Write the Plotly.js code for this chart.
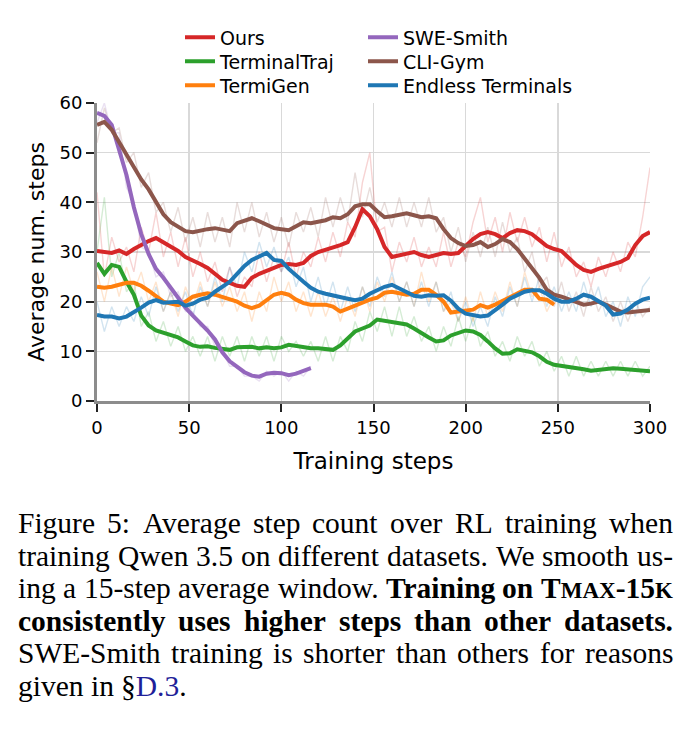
<!DOCTYPE html>
<html>
<head>
<meta charset="utf-8">
<script src="https://cdn.plot.ly/plotly-3.0.1.min.js"></script>
<style>
  html, body { margin: 0; padding: 0; background: #fff; }
  #chart { width: 691px; height: 734px; }
</style>
</head>
<body>
<div id="chart"></div>
<script>
// Training steps are logged every 4 steps.
const steps = [];
for (let s = 0; s <= 300; s += 4) steps.push(s);

// 15-step moving averages of the number of agent steps per episode.
const oursAvg = [
  30.2, 30.0, 29.8, 30.3, 29.6, 30.6, 31.5, 32.2, 32.8, 32.0,
  31.0, 30.2, 29.0, 28.4, 27.6, 26.8, 25.6, 24.4, 23.8, 23.2,
  23.0, 24.8, 25.6, 26.2, 27.0, 27.4, 27.6, 27.4, 27.8, 29.2,
  30.0, 30.4, 30.8, 31.4, 32.0, 35.0, 38.6, 37.2, 34.6, 31.0,
  29.0, 29.4, 29.6, 30.0, 29.4, 29.0, 29.4, 29.8, 29.6, 29.8,
  31.2, 32.6, 33.6, 34.0, 33.6, 32.8, 33.8, 34.4, 34.2, 33.6,
  32.4, 31.2, 30.6, 30.2, 28.8, 27.4, 26.4, 26.0, 26.6, 27.0,
  27.4, 28.0, 28.8, 31.4, 33.2, 34.0
];
const terminalTrajAvg = [
  27.8, 25.6, 27.4, 27.0, 24.0, 21.4, 17.2, 15.2, 14.2, 13.8,
  13.2, 12.8, 12.0, 11.2, 10.9, 11.0, 10.7, 10.5, 10.3, 10.8,
  10.8, 10.9, 10.6, 10.8, 10.6, 10.8, 11.3, 11.0, 10.9, 10.6,
  10.6, 10.4, 10.3, 11.2, 12.6, 14.0, 14.6, 15.2, 16.4, 16.2,
  16.0, 15.8, 15.4, 14.6, 13.6, 12.8, 12.0, 12.2, 13.2, 13.8,
  14.2, 14.0, 13.3, 12.0, 10.6, 9.5, 9.6, 10.4, 10.2, 9.8,
  9.0, 7.9, 7.3, 7.1, 7.0, 6.8, 6.4, 6.1, 6.3, 6.5,
  6.6, 6.5, 6.4, 6.3, 6.1, 6.0
];
const termiGenAvg = [
  23.0, 22.8, 23.0, 23.4, 23.8, 23.8, 23.2, 22.2, 21.0, 20.0,
  19.6, 19.3, 20.0, 21.0, 21.4, 21.7, 21.4, 21.0, 20.6, 20.0,
  19.2, 18.7, 19.2, 20.2, 21.4, 21.8, 21.4, 20.4, 19.7, 19.4,
  19.3, 19.4, 19.0, 18.0, 18.6, 19.2, 20.0, 20.4, 20.8, 21.8,
  22.0, 21.6, 21.4, 21.6, 22.4, 22.4, 21.4, 20.0, 17.8, 18.0,
  18.3, 18.4, 19.3, 18.8, 19.4, 20.2, 21.0, 21.6, 22.4, 22.4,
  20.6, 20.4, 19.4
];
const sweSmithAvg = [
  58.0, 57.4, 55.6, 50.8, 45.5, 39.0, 33.6, 29.6, 26.6, 24.8,
  22.8, 20.8, 18.8, 17.2, 15.7, 14.2, 12.4, 9.8, 8.0, 6.8,
  5.8, 5.1, 4.9, 5.5, 5.7, 5.6, 5.2, 5.5, 6.0, 6.6
];
const cliGymAvg = [
  55.6, 56.2, 54.6, 52.0, 49.8, 47.0, 44.6, 42.6, 40.0, 37.6,
  36.0, 35.2, 34.2, 34.0, 34.4, 34.6, 34.8, 34.6, 34.2, 35.8,
  36.4, 36.8, 36.2, 35.4, 34.8, 34.6, 34.4, 35.2, 36.0, 35.8,
  36.0, 36.4, 37.0, 36.8, 37.6, 39.2, 39.6, 39.6, 38.2, 37.0,
  37.2, 37.4, 37.8, 37.4, 37.0, 37.2, 36.8, 34.6, 32.8, 31.8,
  31.2, 31.4, 32.0, 31.0, 31.6, 32.6, 32.0, 30.6, 28.6, 26.6,
  24.8, 22.4, 21.4, 21.0, 20.4, 20.0, 19.4, 19.6, 20.0, 19.4,
  18.8, 18.0, 17.8, 18.0, 18.2, 18.3
];
const endlessAvg = [
  17.3, 17.0, 17.0, 16.6, 17.0, 17.8, 18.8, 19.8, 20.3, 19.8,
  19.8, 20.0, 19.2, 19.6, 20.4, 20.8, 22.0, 23.0, 24.0, 25.6,
  27.2, 28.4, 29.0, 29.8, 28.4, 28.2, 26.6, 25.2, 24.0, 22.8,
  22.0, 21.6, 21.2, 20.8, 20.6, 20.3, 20.6, 21.6, 22.4, 23.0,
  23.4, 22.6, 21.8, 21.2, 21.0, 21.3, 21.2, 21.3, 20.2, 18.6,
  17.6, 17.2, 17.0, 17.2, 18.2, 19.4, 20.6, 21.4, 22.0, 22.3,
  22.3, 21.6, 20.6, 20.0, 20.0, 20.6, 21.4, 21.0, 20.2, 19.2,
  17.4, 17.6, 18.4, 19.6, 20.4, 20.8
];

// Unsmoothed per-step values (drawn faintly underneath).
const oursRaw = [
  42, 25, 33, 28, 31, 26, 35, 30, 38, 29,
  34, 27, 33, 25, 30, 24, 28, 22, 27, 21,
  25, 23, 30, 24, 29, 26, 32, 25, 30, 27,
  33, 28, 34, 29, 36, 33, 44, 50, 34, 35,
  26, 32, 28, 33, 27, 31, 27, 34, 27, 32,
  29, 36, 41, 32, 37, 30, 38, 32, 37, 31,
  35, 28, 34, 27, 31, 25, 28, 23, 29, 25,
  30, 26, 32, 29, 37, 47
];
const terminalTrajRaw = [
  30, 41, 25, 30, 22, 24, 15, 18, 12, 16,
  11, 15, 10, 13, 9, 13, 8, 13, 9, 13,
  8, 13, 9, 13, 8, 13, 10, 12, 9, 12,
  8, 13, 8, 13, 10, 16, 12, 18, 14, 19,
  13, 19, 13, 17, 12, 15, 10, 15, 11, 17,
  12, 17, 11, 14, 9, 12, 8, 13, 9, 12,
  7, 10, 6, 9, 5, 9, 5, 8, 5, 8,
  5, 8, 5, 8, 5, 7
];
const termiGenRaw = [
  26, 20, 27, 21, 27, 22, 26, 20, 24, 18,
  22, 17, 23, 19, 24, 19, 24, 19, 23, 18,
  22, 16, 22, 18, 25, 20, 24, 18, 22, 17,
  22, 17, 21, 16, 21, 17, 23, 18, 24, 20,
  25, 20, 24, 19, 26, 20, 24, 18, 20, 16,
  21, 16, 22, 17, 22, 18, 24, 19, 26, 21,
  23, 18, 21
];
const sweSmithRaw = [
  56, 60, 54, 54, 43, 40, 31, 30, 25, 26,
  21, 22, 18, 18, 15, 15, 11, 10, 7, 7,
  5, 5, 4, 6, 5, 6, 4, 6, 5, 7
];
const cliGymRaw = [
  52, 59, 54, 55, 48, 50, 43, 46, 38, 40,
  34, 39, 32, 37, 31, 38, 32, 37, 31, 40,
  34, 40, 33, 38, 32, 37, 31, 38, 34, 39,
  33, 41, 35, 41, 36, 46, 37, 43, 36, 40,
  35, 41, 35, 40, 35, 41, 34, 37, 30, 35,
  28, 34, 29, 35, 29, 36, 30, 33, 26, 30,
  23, 25, 19, 24, 18, 22, 17, 23, 18, 21,
  16, 20, 16, 20, 17, 19
];
const endlessRaw = [
  20, 14, 19, 15, 19, 16, 21, 17, 23, 18,
  22, 18, 22, 17, 23, 19, 25, 20, 27, 23,
  30, 26, 32, 27, 31, 26, 29, 23, 27, 20,
  25, 19, 24, 18, 23, 18, 23, 19, 25, 21,
  26, 20, 24, 19, 24, 19, 24, 18, 22, 16,
  20, 15, 19, 15, 21, 17, 23, 19, 25, 20,
  25, 19, 23, 18, 22, 18, 24, 19, 23, 17,
  20, 15, 21, 17, 23, 25
];

const seriesNames = ["Ours", "TerminalTraj", "TermiGen", "SWE-Smith", "CLI-Gym", "Endless Terminals"];
const seriesColors = ["#d62728", "#2ca02c", "#ff7f0e", "#9467bd", "#8c564b", "#1f77b4"];
const smoothed = [oursAvg, terminalTrajAvg, termiGenAvg, sweSmithAvg, cliGymAvg, endlessAvg];
const raw = [oursRaw, terminalTrajRaw, termiGenRaw, sweSmithRaw, cliGymRaw, endlessRaw];

const xTicks = [0, 50, 100, 150, 200, 250, 300];
const yTicks = [0, 10, 20, 30, 40, 50, 60];

// Plot-area geometry (pixels)
const W = 691, H = 734;
const M = { l: 97, r: 41, t: 103, b: 333 };
const plotW = W - M.l - M.r, plotH = H - M.t - M.b;
const px2x = px => (px - M.l) / plotW;
const py2y = py => (H - M.b - py) / plotH;

const traces = [];
raw.forEach((vals, i) => {
  traces.push({
    type: "scatter", mode: "lines",
    x: steps.slice(0, vals.length), y: vals,
    line: { color: seriesColors[i], width: 1.4 },
    opacity: 0.2, showlegend: false, hoverinfo: "skip"
  });
});

// Two-column legend: each entry gets its own legend box.
const legendColX = [180, 363];
const legendRowY = [37.5, 61.5, 85.5];
const legends = {};
smoothed.forEach((vals, i) => {
  const id = i === 0 ? "legend" : "legend" + (i + 1);
  traces.push({
    type: "scatter", mode: "lines", name: seriesNames[i],
    x: steps.slice(0, vals.length), y: vals,
    line: { color: seriesColors[i], width: 4 },
    legend: id
  });
  legends[id] = {
    x: px2x(legendColX[Math.floor(i / 3)]), xanchor: "left",
    y: py2y(legendRowY[i % 3]), yanchor: "middle",
    bgcolor: "rgba(0,0,0,0)", borderwidth: 0,
    font: { family: "DejaVu Sans", size: 19, color: "#000" }
  };
});

const axisCommon = {
  showgrid: true, gridcolor: "#d9d9d9", gridwidth: 1.5,
  zeroline: false, showline: true, linecolor: "#8c8c8c", linewidth: 3,
  ticks: "outside", ticklen: 8, tickwidth: 2, tickcolor: "#222",
  tickfont: { family: "DejaVu Sans", size: 18, color: "#000" },
  fixedrange: true
};

// Caption: runs of [text, style]; justified to the column width.
const captionRuns = [
  [["Figure 5: Average step count over RL training when", "r"]],
  [["training Qwen 3.5 on different datasets. We smooth us-", "r"]],
  [["ing a 15-step average window. ", "r"], ["Training on T", "b"], ["max", "bsc"], ["-15", "b"], ["k", "bsc"]],
  [["consistently uses higher steps than other datasets.", "b"]],
  [["SWE-Smith training is shorter than others for reasons", "r"]],
  [["given in §", "r"], ["D.3", "link"], [".", "r"]]
];
const capFont = "Liberation Serif";
const capSize = 29.5, scSize = 23;
const capLeft = 17, capRight = 672, capTop = 523, capStep = 32.6;

const ctx = document.createElement("canvas").getContext("2d");
function segWidth(text, style) {
  const bold = style === "b" || style === "bsc";
  const size = style === "bsc" ? scSize : capSize;
  ctx.font = (bold ? "bold " : "") + size + 'px "' + capFont + '"';
  return ctx.measureText(style === "bsc" ? text.toUpperCase() : text).width;
}
function segHtml(text, style) {
  if (style === "b") return "<b>" + text + "</b>";
  if (style === "bsc") return "<b><span style='font-size:" + scSize + "px'>" + text.toUpperCase() + "</span></b>";
  if (style === "link") return "<span style='color:#1f1f99'>" + text + "</span>";
  return text;
}
function toWords(runs) {
  const words = [];
  let cur = [];
  runs.forEach(([txt, st]) => {
    txt.split(" ").forEach((p, k) => {
      if (k > 0) { if (cur.length) words.push(cur); cur = []; }
      if (p) cur.push([p, st]);
    });
  });
  if (cur.length) words.push(cur);
  return words;
}

const annotations = [];
captionRuns.forEach((runs, li) => {
  const words = toWords(runs);
  const widths = words.map(w => w.reduce((s, [t, st]) => s + segWidth(t, st), 0));
  const total = widths.reduce((a, b) => a + b, 0);
  const last = li === captionRuns.length - 1;
  const gap = last ? segWidth(" ", "r") : (capRight - capLeft - total) / (words.length - 1);
  let xpos = capLeft;
  const yc = capTop + li * capStep;
  words.forEach((w, wi) => {
    annotations.push({
      xref: "paper", yref: "paper",
      x: px2x(xpos), y: py2y(yc), xanchor: "left", yanchor: "middle",
      text: w.map(([t, st]) => segHtml(t, st)).join(""),
      showarrow: false, borderpad: 0,
      font: { family: capFont, size: capSize, color: "#000" }
    });
    xpos += widths[wi] + gap;
  });
});

const layout = Object.assign({
  width: W, height: H,
  margin: M,
  paper_bgcolor: "#fff", plot_bgcolor: "#fff",
  font: { family: "DejaVu Sans", color: "#000" },
  showlegend: true,
  xaxis: Object.assign({}, axisCommon, {
    range: [0, 300], tickvals: xTicks, ticktext: xTicks.map(String),
    title: { text: "Training steps", font: { family: "DejaVu Sans", size: 23, color: "#000" }, standoff: 17 }
  }),
  yaxis: Object.assign({}, axisCommon, {
    range: [0, 60], tickvals: yTicks, ticktext: yTicks.map(String),
    title: { text: "Average num. steps", font: { family: "DejaVu Sans", size: 22, color: "#000" }, standoff: 9 }
  }),
  annotations: annotations
}, legends);

Plotly.newPlot("chart", traces, layout, { displayModeBar: false, staticPlot: true });
</script>
</body>
</html>
